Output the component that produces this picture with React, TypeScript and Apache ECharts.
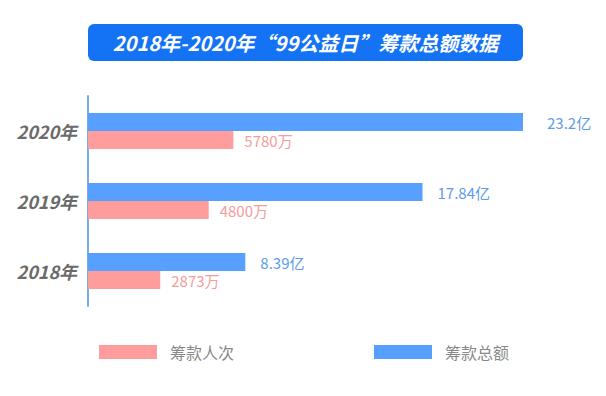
import React, { useEffect, useRef } from "react";
import * as echarts from "echarts";

const titleText = "2018年-2020年“99公益日”筹款总额数据";
const categories = ["2018年", "2019年", "2020年"];
const peopleName = "筹款人次";
const amountName = "筹款总额";
const peopleValues = [2873, 4800, 5780]; // 万
const amountValues = [8.39, 17.84, 23.2]; // 亿

const CJK = '"Noto Sans CJK SC", "Noto Sans", sans-serif';

export default function App() {
  const ref = useRef<HTMLDivElement>(null);
  useEffect(() => {
    if (!ref.current) return;
    const chart = echarts.init(ref.current, undefined, { renderer: "svg" });
    const legendBase = {
      icon: "rect",
      itemWidth: 58,
      itemHeight: 14,
      selectedMode: false,
      textStyle: { color: "#888888", fontSize: 16, fontFamily: CJK, padding: [0, 0, 0, 8] },
    };
    chart.setOption({
      animation: false,
      backgroundColor: "#ffffff",
      graphic: [
        {
          type: "group",
          left: 88,
          top: 24,
          children: [
            {
              type: "rect",
              shape: { x: 0, y: 0, width: 435, height: 37, r: 6 },
              style: { fill: "#1472f5" },
            },
            {
              type: "text",
              x: 217.5,
              y: 18.5,
              style: {
                text: titleText,
                fill: "#ffffff",
                font: `italic bold 20px ${CJK}`,
                align: "center",
                verticalAlign: "middle",
              },
            },
          ],
        },
      ],
      legend: [
        { ...legendBase, data: [peopleName], left: 94, top: 339 },
        { ...legendBase, data: [amountName], left: 369, top: 339 },
      ],
      grid: { left: 88, top: 96, width: 435, height: 210, containLabel: false },
      xAxis: [
        { type: "value", min: 0, max: 23.2, show: false },
        { type: "value", min: 0, max: 17300, show: false },
      ],
      yAxis: {
        type: "category",
        data: categories,
        axisLine: { show: true, lineStyle: { color: "#7aaaf2", width: 2 } },
        axisTick: { show: false },
        axisLabel: {
          color: "#6a6a6a",
          fontSize: 18,
          fontStyle: "italic",
          fontWeight: "bold",
          fontFamily: CJK,
          margin: 11,
        },
        splitLine: { show: false },
      },
      series: [
        {
          name: amountName,
          type: "bar",
          xAxisIndex: 0,
          data: amountValues.map((v, i) =>
            i === amountValues.length - 1 ? { value: v, label: { distance: 24 } } : v
          ),
          barWidth: 18,
          barGap: "0%",
          itemStyle: { color: "#58a0ff" },
          label: {
            show: true,
            position: "right",
            distance: 15,
            formatter: "{c}亿",
            color: "#5e9be8",
            fontSize: 15,
            fontFamily: CJK,
          },
        },
        {
          name: peopleName,
          type: "bar",
          xAxisIndex: 1,
          data: peopleValues,
          barWidth: 18,
          barGap: "0%",
          itemStyle: { color: "#ff9c9c" },
          label: {
            show: true,
            position: "right",
            distance: 11,
            formatter: "{c}万",
            color: "#f59c9c",
            fontSize: 15,
            fontFamily: CJK,
          },
        },
      ],
    });
    return () => chart.dispose();
  }, []);
  return (
    <div
      ref={ref}
      style={{ position: "fixed", left: 0, top: 0, width: 606, height: 396 }}
    />
  );
}
